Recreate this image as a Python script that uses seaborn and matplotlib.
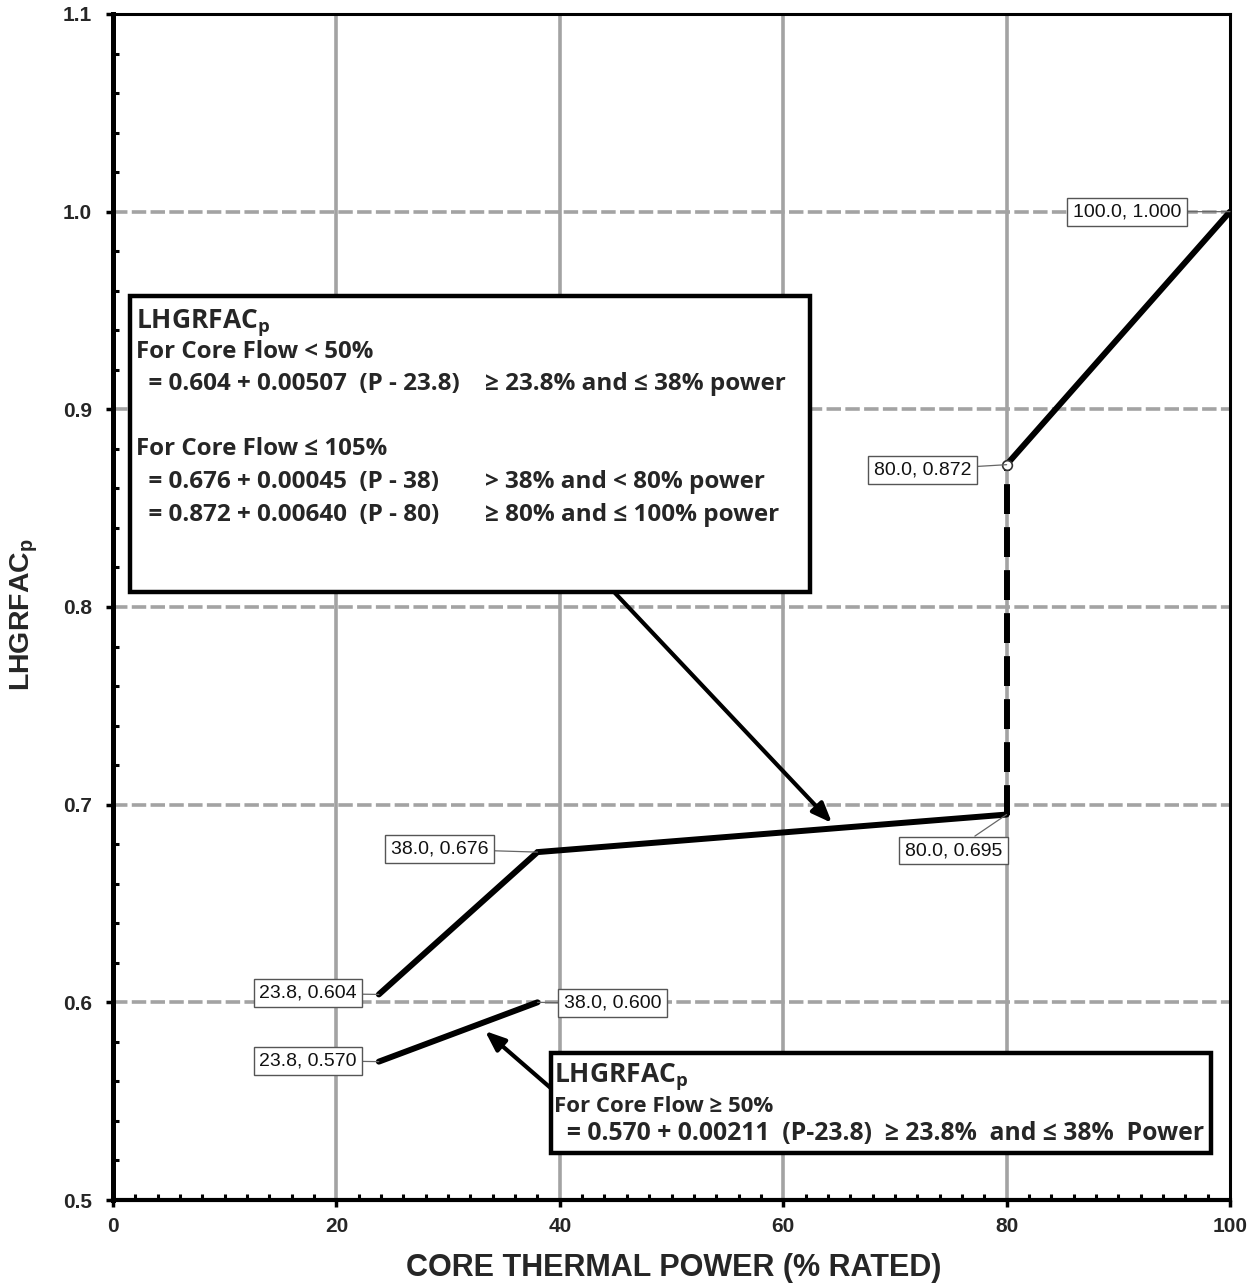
import matplotlib
matplotlib.use("Agg")
import matplotlib.pyplot as plt
import seaborn as sns
import pandas as pd
from matplotlib.patches import Rectangle
from matplotlib.ticker import MultipleLocator

# ---------------- data ----------------
low_flow_x = [23.8, 38.0, 80.0]
low_flow_y = [0.604, 0.676, 0.695]
step_x = [80.0, 80.0]
step_y = [0.695, 0.872]
high_power_x = [80.0, 100.0]
high_power_y = [0.872, 1.000]
high_flow_x = [23.8, 38.0]
high_flow_y = [0.570, 0.600]

point_labels = ["100.0, 1.000", "80.0, 0.872", "38.0, 0.676", "80.0, 0.695",
                "23.8, 0.604", "38.0, 0.600", "23.8, 0.570"]
point_x = [100.0, 80.0, 38.0, 80.0, 23.8, 38.0, 23.8]
point_y = [1.000, 0.872, 0.676, 0.695, 0.604, 0.600, 0.570]

x_ticks = [0, 20, 40, 60, 80, 100]
y_ticks = [0.5, 0.6, 0.7, 0.8, 0.9, 1.0, 1.1]

box1_lines = [
    ("LHGRFAC$_\\mathregular{p}$", ""),
    ("For Core Flow < 50%", ""),
    ("  = 0.604 + 0.00507  (P - 23.8)", "≥ 23.8% and ≤ 38% power"),
    ("", ""),
    ("For Core Flow ≤ 105%", ""),
    ("  = 0.676 + 0.00045  (P - 38)", "> 38% and < 80% power"),
    ("  = 0.872 + 0.00640  (P - 80)", "≥ 80% and ≤ 100% power"),
]
box2_lines = [
    ("LHGRFAC$_\\mathregular{p}$", ""),
    ("For Core Flow ≥ 50%", ""),
    ("  = 0.570 + 0.00211  (P-23.8)  ≥ 23.8%  and ≤ 38%  Power", ""),
]

# ---------------- style ----------------
sns.set_theme(style="white")
plt.rcParams["font.family"] = ["Liberation Sans", "DejaVu Sans"]

fig = plt.figure(figsize=(12.54, 12.85), dpi=100)
ax = fig.add_axes([113 / 1254, 1 - 1200 / 1285, (1230 - 113) / 1254, (1200 - 14) / 1285])

grid_col = "#a3a3a3"
for yv in y_ticks[1:-1]:
    ax.axhline(yv, color=grid_col, lw=2.6, ls=(0, (4, 1.2)), zorder=0)
for xv in x_ticks[1:-1]:
    ax.axvline(xv, color=grid_col, lw=2.6, zorder=0)

lw = 4.3
sns.lineplot(x=low_flow_x, y=low_flow_y, ax=ax, color="black", lw=lw, sort=False,
             solid_joinstyle="miter", zorder=3)
sns.lineplot(x=high_power_x, y=high_power_y, ax=ax, color="black", lw=lw, sort=False, zorder=3)
sns.lineplot(x=high_flow_x, y=high_flow_y, ax=ax, color="black", lw=lw, sort=False, zorder=3)
ax.plot(step_x, step_y, color="black", lw=lw, ls=(0, (5, 2.2)), zorder=3)
ax.plot([80.0], [0.872], marker="o", ms=7, mfc="white", mec="#333333", mew=1.2, zorder=4)

ax.set_xlim(0, 100)
ax.set_ylim(0.5, 1.1)
ax.set_xticks(x_ticks)
ax.set_yticks(y_ticks)
ax.set_xticklabels([str(v) for v in x_ticks], fontsize=15, fontweight="bold")
ax.set_yticklabels([f"{v:.1f}" for v in y_ticks], fontsize=15, fontweight="bold")
ax.xaxis.set_minor_locator(MultipleLocator(2))
ax.yaxis.set_minor_locator(MultipleLocator(0.02))
ax.tick_params(which="major", direction="out", length=5, width=2.5, color="black",
               labelsize=15, bottom=True, left=True)
ax.tick_params(axis="y", which="major", pad=10)
ax.tick_params(axis="x", which="major", pad=7)
ax.tick_params(which="minor", direction="in", length=4, width=2.2, color="black",
               bottom=True, left=True)

for side, w in [("left", 3.6), ("bottom", 3.0), ("top", 2.2), ("right", 2.2)]:
    ax.spines[side].set_visible(True)
    ax.spines[side].set_color("black")
    ax.spines[side].set_linewidth(w)

ax.set_xlabel("CORE THERMAL POWER (% RATED)", fontsize=22, fontweight="bold")
ax.set_ylabel("LHGRFAC$_\\mathregular{p}$", fontsize=20.5, fontweight="bold")
ax.xaxis.set_label_coords((674 - 113) / 1117, -(1253 - 1200) / 1186)
ax.yaxis.set_label_coords(-(113 - 40) / 1117, (1200 - 615) / 1186)

# ---------------- point labels ----------------
offsets = [(-103, 0), (-84, -5), (-98, 3), (-53, -36), (-71, 1), (75, -1), (-71, 1)]
for lab, px, py, off in zip(point_labels, point_x, point_y, offsets):
    ax.annotate(lab, xy=(px, py), xytext=off, textcoords="offset pixels",
                ha="center", va="center", fontsize=14, color="#111111",
                bbox=dict(boxstyle="square,pad=0.28", fc="white", ec="#555555", lw=1.0),
                arrowprops=dict(arrowstyle="-", color="#666666", lw=0.9,
                                shrinkA=0, shrinkB=0),
                zorder=6)

# ---------------- text boxes ----------------
def px2ax(x, y):
    return ((x - 113) / (1230 - 113), (1200 - y) / (1200 - 14))

x0, y0 = px2ax(130, 592)
x1, y1 = px2ax(810, 296)
ax.add_patch(Rectangle((x0, y0), x1 - x0, y1 - y0, transform=ax.transAxes,
                       fc="white", ec="black", lw=3.2, zorder=7))
box_font = ["Open Sans", "DejaVu Sans"]
line_y = [323, 352, 384, 0, 449, 482, 515]
line_fs = [19, 17.3, 17.5, 0, 17.3, 17.5, 17.5]
for (a, b), ly, fs in zip(box1_lines, line_y, line_fs):
    if not a:
        continue
    tx, ty = px2ax(136, ly)
    ax.text(tx, ty, a, transform=ax.transAxes, ha="left", va="center", fontsize=fs,
            fontweight="bold", family=box_font, zorder=8)
    if b:
        tx2, _ = px2ax(485, ly)
        ax.text(tx2, ty, b, transform=ax.transAxes, ha="left", va="center", fontsize=fs,
                fontweight="bold", family=box_font, zorder=8)

x0, y0 = px2ax(551, 1153)
x1, y1 = px2ax(1211, 1053)
ax.add_patch(Rectangle((x0, y0), x1 - x0, y1 - y0, transform=ax.transAxes,
                       fc="white", ec="black", lw=3.2, zorder=7))
for (a, b), ly, fs in zip(box2_lines, [1077, 1106, 1134], [19, 16, 17.8]):
    tx, ty = px2ax(554, ly)
    ax.text(tx, ty, a, transform=ax.transAxes, ha="left", va="center", fontsize=fs,
            fontweight="bold", family=box_font, zorder=8)

# ---------------- arrows ----------------
ax.annotate("", xy=px2ax(832, 823), xytext=px2ax(615, 593), xycoords="axes fraction",
            textcoords="axes fraction",
            arrowprops=dict(arrowstyle="-|>,head_length=1.0,head_width=0.4", color="black",
                            lw=3, shrinkA=0, shrinkB=0), zorder=6)
ax.annotate("", xy=px2ax(485, 1031), xytext=px2ax(553, 1090), xycoords="axes fraction",
            textcoords="axes fraction",
            arrowprops=dict(arrowstyle="-|>,head_length=1.0,head_width=0.4", color="black",
                            lw=3, shrinkA=0, shrinkB=0), zorder=6)

fig.savefig("out.png", dpi=100)
